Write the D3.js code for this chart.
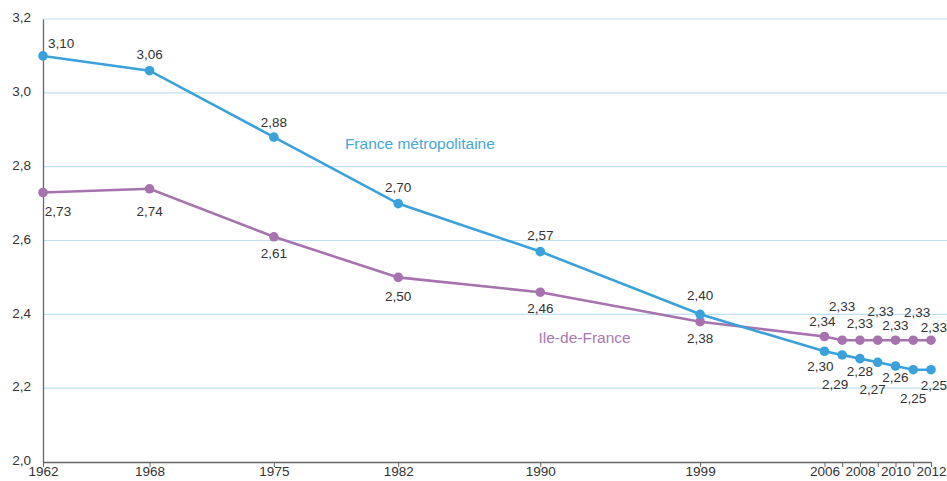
<!DOCTYPE html>
<html><head><meta charset="utf-8">
<script src="https://cdn.jsdelivr.net/npm/d3@7"></script>
<style>
body{margin:0;background:#fff;}
svg{display:block;font-family:"Liberation Sans",Arial,sans-serif;}
</style></head>
<body><svg id="c" width="947" height="481"></svg>
<script>
const years = [1962,1968,1975,1982,1990,1999,2006,2007,2008,2009,2010,2011,2012];
const france = [3.10,3.06,2.88,2.70,2.57,2.40,2.30,2.29,2.28,2.27,2.26,2.25,2.25];
const idf = [2.73,2.74,2.61,2.50,2.46,2.38,2.34,2.33,2.33,2.33,2.33,2.33,2.33];
const xTickLabels = [1962,1968,1975,1982,1990,1999,2006,2008,2010,2012];
const yTicks = [2.0,2.2,2.4,2.6,2.8,3.0,3.2];
const seriesNames = ["France métropolitaine","Ile-de-France"];

// label placement (styling): dx, dy relative to point, anchor
const franceLab = [[5,-8,"start"],[0,-12,"middle"],[0,-10,"middle"],[0,-12,"middle"],[0,-12,"middle"],[0,-14,"middle"],
  [-4,20,"middle"],[-7,34,"middle"],[0,17,"middle"],[-5,32,"middle"],[0,16,"middle"],[0,33,"middle"],[16,20,"end"]];
const idfLab = [[15,23,"middle"],[0,27,"middle"],[0,21,"middle"],[0,24,"middle"],[0,21,"middle"],[0,21,"middle"],
  [-2,-10,"middle"],[0,-29,"middle"],[0,-12,"middle"],[3,-24,"middle"],[0,-10,"middle"],[4,-23,"middle"],[16,-8,"end"]];

const svg = d3.select("#c");
const x = d3.scaleLinear().domain([1962,2012]).range([43,931]);
const y = d3.scaleLinear().domain([2.0,3.2]).range([462,19]);
const fmt = v => d3.format(".2f")(v).replace(".",",");
const fmt1 = v => d3.format(".1f")(v).replace(".",",");
const FS = 13.5;

// gridlines
svg.append("g").selectAll("line").data(yTicks.filter(t=>t>2.0)).join("line")
  .attr("x1",43).attr("x2",947).attr("y1",d=>y(d)).attr("y2",d=>y(d))
  .attr("stroke","#bfe0f3").attr("stroke-width",1.2);

// y axis
const ya = svg.append("g").attr("transform","translate(43,0)")
  .call(d3.axisLeft(y).tickValues(yTicks).tickSize(0).tickFormat(fmt1));
ya.select(".domain").attr("stroke","#666").attr("stroke-width",1.3);
ya.selectAll("text").attr("font-size",FS).attr("fill","#333").attr("x",-12).attr("dy","0.2em")
  .attr("font-family","'Liberation Sans',Arial,sans-serif");

// x axis
const xa = svg.append("g").attr("transform","translate(0,462)")
  .call(d3.axisBottom(x).tickValues(years).tickSize(5).tickSizeOuter(0)
    .tickFormat(d=> xTickLabels.includes(d)? d : ""));
xa.select(".domain").attr("stroke","#666").attr("stroke-width",1.3);
xa.selectAll(".tick line").attr("stroke","#666");
xa.selectAll("text").attr("font-size",FS).attr("fill","#333").attr("y",4).attr("dy","0.71em")
  .attr("font-family","'Liberation Sans',Arial,sans-serif");

function series(vals, color, labs){
  const line = d3.line().x((d,i)=>x(years[i])).y(d=>y(d));
  svg.append("path").datum(vals).attr("d",line).attr("fill","none")
    .attr("stroke",color).attr("stroke-width",2.6);
  svg.append("g").selectAll("circle").data(vals).join("circle")
    .attr("cx",(d,i)=>x(years[i])).attr("cy",d=>y(d)).attr("r",4.8).attr("fill",color);
  svg.append("g").selectAll("text").data(vals).join("text")
    .attr("x",(d,i)=>x(years[i])+labs[i][0]).attr("y",(d,i)=>y(d)+labs[i][1])
    .attr("text-anchor",(d,i)=>labs[i][2]).attr("font-size",FS).attr("fill","#333")
    .text(fmt);
}
series(idf,"#a673ae",idfLab);
series(france,"#3aa1db",franceLab);

svg.append("text").attr("x",x(1979.0)).attr("y",y(2.848)).attr("font-size",15.5)
  .attr("fill","#4aa6dc").text(seriesNames[0]);
svg.append("text").attr("x",x(1989.9)).attr("y",y(2.322)).attr("font-size",15.5)
  .attr("fill","#a979b3").text(seriesNames[1]);
</script></body></html>
